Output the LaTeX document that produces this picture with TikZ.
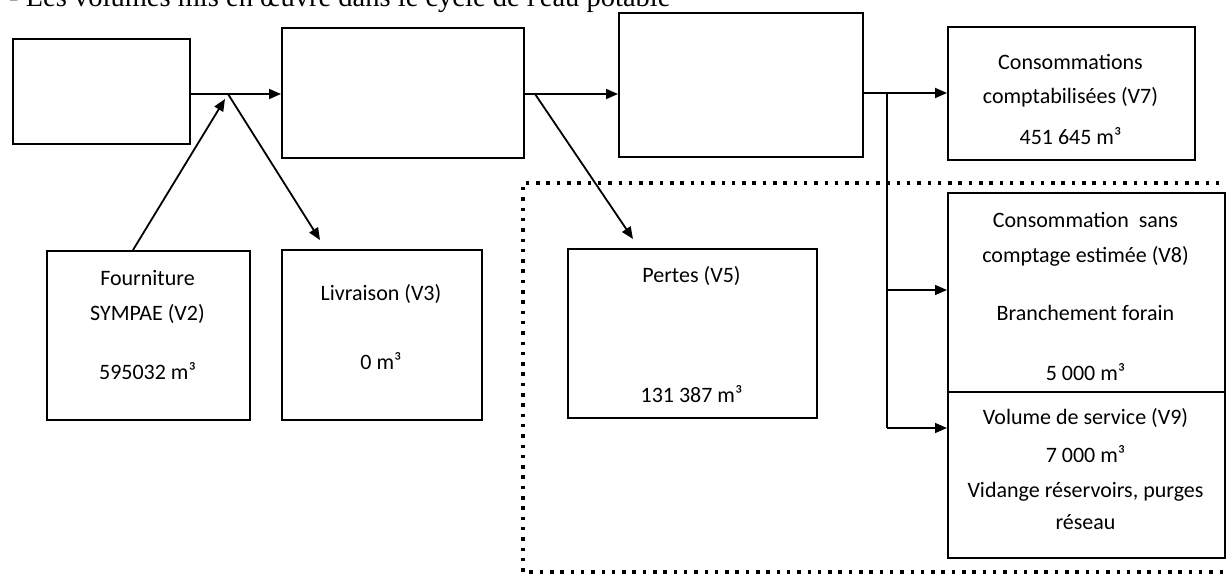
\documentclass[tikz,border=0pt]{standalone}
\usepackage{fontspec}
\setmainfont{Carlito}
\newfontfamily\titlefont{Liberation Serif}
\usetikzlibrary{arrows.meta}
\begin{document}
\begin{tikzpicture}[x=1pt,y=-1pt,
  box/.style={draw, line width=1.6pt, inner sep=0pt, anchor=north west},
  lbl/.style={font=\fontsize{22}{26}\selectfont, inner sep=0pt, anchor=base},
  arr/.style={line width=1.8pt, -{Triangle[length=12pt,width=10pt]}},
  thinarr/.style={line width=1.4pt, -{Triangle[length=12pt,width=10pt]}},
  thinline/.style={line width=1.4pt},
  dotline/.style={line width=3.5pt, dash pattern=on 3.5pt off 6.8pt}]
\useasboundingbox (0,0) rectangle (1226,575);
\clip (0,0) rectangle (1226,575);
% title (cut off at the top, as in the reference)
\node[font=\titlefont\fontsize{28.5}{32}\selectfont, anchor=base west, inner sep=0pt] (title) at (9,7) {- Les volumes mis en œuvre dans le cycle de l'eau potable};
% dotted frame
\draw[dotline] (1240,183) -- (523,183) -- (523,572) -- (1240,572);
% boxes
\node[box, minimum width=177pt, minimum height=105pt] (A) at (12,38) {};
\node[box, minimum width=242pt, minimum height=130pt] (B) at (281,27) {};
\node[box, minimum width=244pt, minimum height=144pt] (C) at (618,12) {};
\node[box, minimum width=247pt, minimum height=133pt] (D) at (947,26) {};
\node[box, minimum width=203pt, minimum height=169pt] (F) at (46,250) {};
\node[box, minimum width=200pt, minimum height=170pt] (L) at (281,249) {};
\node[box, minimum width=249pt, minimum height=169pt] (P) at (567,248) {};
\node[box, minimum width=277pt, minimum height=199pt] (V8) at (947,192) {};
\node[box, minimum width=277pt, minimum height=166pt] (V9) at (947,391) {};
% labels
\node[lbl] (d1) at (1070.5,70) {Consommations};
\node[lbl] (d2) at (1070.5,104) {comptabilisées (V7)};
\node[lbl] (d3) at (1070.5,145) {451 645 m³};
\node[lbl] (f1) at (147.5,285) {Fourniture};
\node[lbl] (f2) at (147.5,320) {SYMPAE (V2)};
\node[lbl] (f3) at (147.5,379) {595032 m³};
\node[lbl] (l1) at (381,300) {Livraison (V3)};
\node[lbl] (l2) at (381,369) {0 m³};
\node[lbl] (p1) at (691.5,282) {Pertes (V5)};
\node[lbl] (p2) at (691.5,402) {131 387 m³};
\node[lbl] (e1) at (1085.5,227) {Consommation\ \ sans};
\node[lbl] (e2) at (1085.5,262) {comptage estimée (V8)};
\node[lbl] (e3) at (1085.5,320) {Branchement forain};
\node[lbl] (e4) at (1085.5,380) {5 000 m³};
\node[lbl] (g1) at (1085.5,424) {Volume de service (V9)};
\node[lbl] (g2) at (1085.5,462) {7 000 m³};
\node[lbl] (g3) at (1085.5,497) {Vidange réservoirs, purges};
\node[lbl] (g4) at (1085.5,529) {réseau};
% connectors
\coordinate (j1) at (228,94);
\coordinate (s1) at (133,250);
\coordinate (t1) at (225,99);
\coordinate (t2) at (320,240);
\coordinate (j2) at (535,94);
\coordinate (t3) at (633,239);
\coordinate (j3) at (887,93);
\coordinate (k8) at (887,290);
\coordinate (k9) at (887,428);
\draw[arr] (A.east |- j1) -- (B.west |- j1);
\draw[arr] (s1) -- (t1);
\draw[arr] (j1) -- (t2);
\draw[arr] (B.east |- j2) -- (C.west |- j2);
\draw[arr] (j2) -- (t3);
\draw[arr] (C.east |- j3) -- (D.west |- j3);
\draw[thinline] (j3) -- (k9);
\draw[thinarr] (k8) -- (V8.west |- k8);
\draw[thinarr] (k9) -- (V9.west |- k9);
\end{tikzpicture}
\end{document}
